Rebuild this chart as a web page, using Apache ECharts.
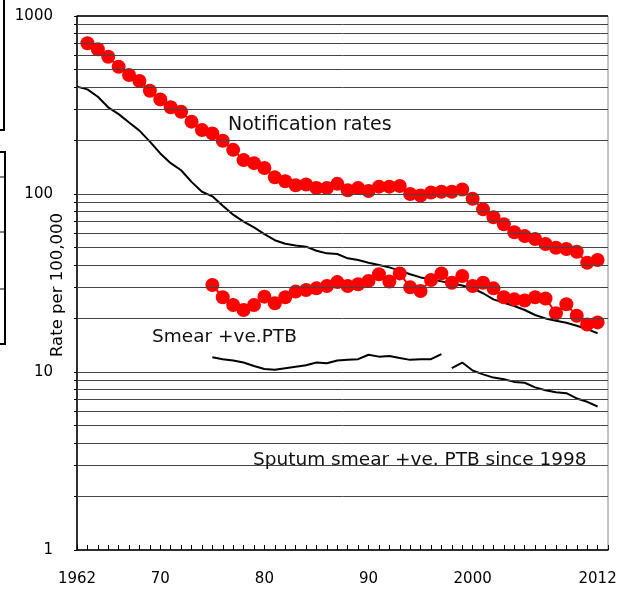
<!DOCTYPE html>
<html><head><meta charset="utf-8">
<script src="https://cdn.jsdelivr.net/npm/echarts@6/dist/echarts.min.js"></script>
<style>html,body{margin:0;padding:0;background:#fff}#c{width:630px;height:592px}</style>
</head><body><div id="c"></div>
<script>
// ---- data ----
const notificationStart = 1963;
const notificationRates = [703,650,590,519,466,431,380,340,307,290,255,229,219,199,177,155,149,140,124,118,112,113,108,108,114,
  105,108,104,110,110,111,100,98,102,103,103,106,94,82,74,67.6,61,58,55.9,52.4,49.9,49.1,47.4,41.1,42.6];
const smearRedStart = 1975;
const smearRed = [30.8,26.3,23.8,22.3,23.8,26.5,24.3,26.3,28.3,28.9,29.5,30.4,32,30.4,31.1,32.5,35.4,32.2,35.8,29.9,28.5,32.9,35.8,
  31.7,34.6,30.4,31.7,29.5,26.3,25.6,25.2,26.3,25.9,21.4,24.0,20.7,18.5,19.0];
const blackTotalStart = 1962;
const blackTotal = [401,387,352,307,281,252,227,197,169,149,136,117,103,97,86,76.5,70,65,59.5,55,52.5,51.3,50.6,48,46.4,46,43.5,42.6,41.1,39.9,
  38.7,37.1,35.4,34.0,33.2,32.3,31.4,30.6,29.5,27.7,25.6,24.5,23.5,22.3,20.9,20.0,19.4,18.9,18.2,17.4,16.5];
const smearBlackStart = 1975;
const smearBlack = [12.1,11.8,11.6,11.3,10.8,10.4,10.3,10.5,10.7,10.9,11.3,11.2,11.6,11.7,11.8,12.5,12.2,12.3,12.0,11.7,11.8,11.8,12.6];
const sputumStart = 1998;
const sputumBlack = [10.5,11.3,10.2,9.7,9.3,9.1,8.8,8.7,8.2,7.9,7.7,7.6,7.1,6.8,6.4];

const xLabelYears = [1962,1970,1980,1990,2000,2012];
const xLabelTexts = ['1962','70','80','90','2000','2012'];
const yLabelValues = [1,10,100,1000];
const yLabelTexts = ['1','10','100','1000'];
const gridValues = [2,3,4,5,6,7,8,9,10,20,30,40,50,60,70,80,90,100,200,300,400,500,600,700,800,900];
const yTickValues = [1,2,3,4,5,6,7,8,9,10,20,30,40,50,60,70,80,90,100,200,300,400,500,600,700,800,900,1000];
const yAxisTitle = 'Rate per 100,000';
const labelNotification = 'Notification rates';
const labelSmear = 'Smear +ve.PTB';
const labelSputum = 'Sputum smear +ve. PTB since 1998';

function pairs(start, vals){ return vals.map((v,i)=>[start+i, v]); }

const FONT = 'DejaVu Sans';
const chart = echarts.init(document.getElementById('c'), null, {renderer:'canvas'});
const blackLine = {type:'line', symbol:'none', lineStyle:{color:'#000', width:2}, z:3, silent:true};
const redDots = {type:'line', symbol:'circle', symbolSize:14, itemStyle:{color:'#ff0000'}, lineStyle:{color:'#ff0000', width:2}, z:4, silent:true};

chart.setOption({
  animation:false,
  backgroundColor:'#fff',
  grid:{left:77, right:22, top:16, bottom:42, show:true, borderColor:'#888', borderWidth:1},
  xAxis:{type:'value', min:1962, max:2013, interval:1,
    axisLine:{lineStyle:{color:'#000', width:1.5}},
    axisTick:{inside:true, length:5, lineStyle:{color:'#000', width:1}},
    splitLine:{show:false},
    axisLabel:{customValues:xLabelYears, formatter:v=>xLabelTexts[xLabelYears.indexOf(v)], color:'#000', fontFamily:FONT, fontSize:15, margin:22}
  },
  yAxis:{type:'log', logBase:10, min:1, max:1000,
    axisLine:{show:true, lineStyle:{color:'#000', width:1.5}},
    axisTick:{show:true, customValues:yTickValues, length:3, lineStyle:{color:'#000'}},
    splitLine:{show:false},
    axisLabel:{customValues:yLabelValues, formatter:v=>{const i=yLabelValues.findIndex(u=>Math.abs(u-v)<1e-6*u); return i>=0?yLabelTexts[i]:'';}, color:'#000', fontFamily:FONT, fontSize:15, margin:24}
  },
  series:[
    {type:'line', data:[[1962,1]], symbol:'none', lineStyle:{opacity:0}, z:1, silent:true,
     markLine:{silent:true, symbol:'none', label:{show:false}, animation:false,
       lineStyle:{color:'#444', width:1, type:'solid'},
       data: gridValues.map(v=>({yAxis:v})).concat([{yAxis:1000, lineStyle:{color:'#000', width:1.5}}])}},
    Object.assign({}, blackLine, {data:pairs(blackTotalStart, blackTotal)}),
    Object.assign({}, blackLine, {data:pairs(smearBlackStart, smearBlack)}),
    Object.assign({}, blackLine, {data:pairs(sputumStart, sputumBlack)}),
    Object.assign({}, redDots, {data:pairs(notificationStart, notificationRates)}),
    Object.assign({}, redDots, {data:pairs(smearRedStart, smearRed)})
  ],
  graphic:[
    {type:'text', left:228, top:116, z:10, style:{text:labelNotification, font:'19px "DejaVu Sans"', fill:'#111'}},
    {type:'text', left:152, top:328, z:10, style:{text:labelSmear, font:'18.5px "DejaVu Sans"', fill:'#111'}},
    {type:'text', left:253, top:451, z:10, style:{text:labelSputum, font:'18.5px "DejaVu Sans"', fill:'#111'}},
    {type:'text', x:58, y:285, rotation:Math.PI/2, z:10, style:{text:yAxisTitle, font:'16.5px "DejaVu Sans"', fill:'#000', align:'center', verticalAlign:'middle'}},
    // cropped frames at the left edge of the original picture
    {type:'line', shape:{x1:4,y1:0,x2:4,y2:130}, style:{stroke:'#000', lineWidth:2}},
    {type:'line', shape:{x1:0,y1:130,x2:5,y2:130}, style:{stroke:'#000', lineWidth:2}},
    {type:'line', shape:{x1:5,y1:152,x2:5,y2:345}, style:{stroke:'#000', lineWidth:2}},
    {type:'line', shape:{x1:0,y1:152,x2:6,y2:152}, style:{stroke:'#000', lineWidth:2}},
    {type:'line', shape:{x1:0,y1:344,x2:6,y2:344}, style:{stroke:'#000', lineWidth:2}},
    {type:'line', shape:{x1:0,y1:177,x2:5,y2:177}, style:{stroke:'#000', lineWidth:1}},
    {type:'line', shape:{x1:0,y1:232,x2:5,y2:232}, style:{stroke:'#000', lineWidth:1}},
    {type:'line', shape:{x1:0,y1:289,x2:5,y2:289}, style:{stroke:'#000', lineWidth:1}}
  ]
});
</script></body></html>
